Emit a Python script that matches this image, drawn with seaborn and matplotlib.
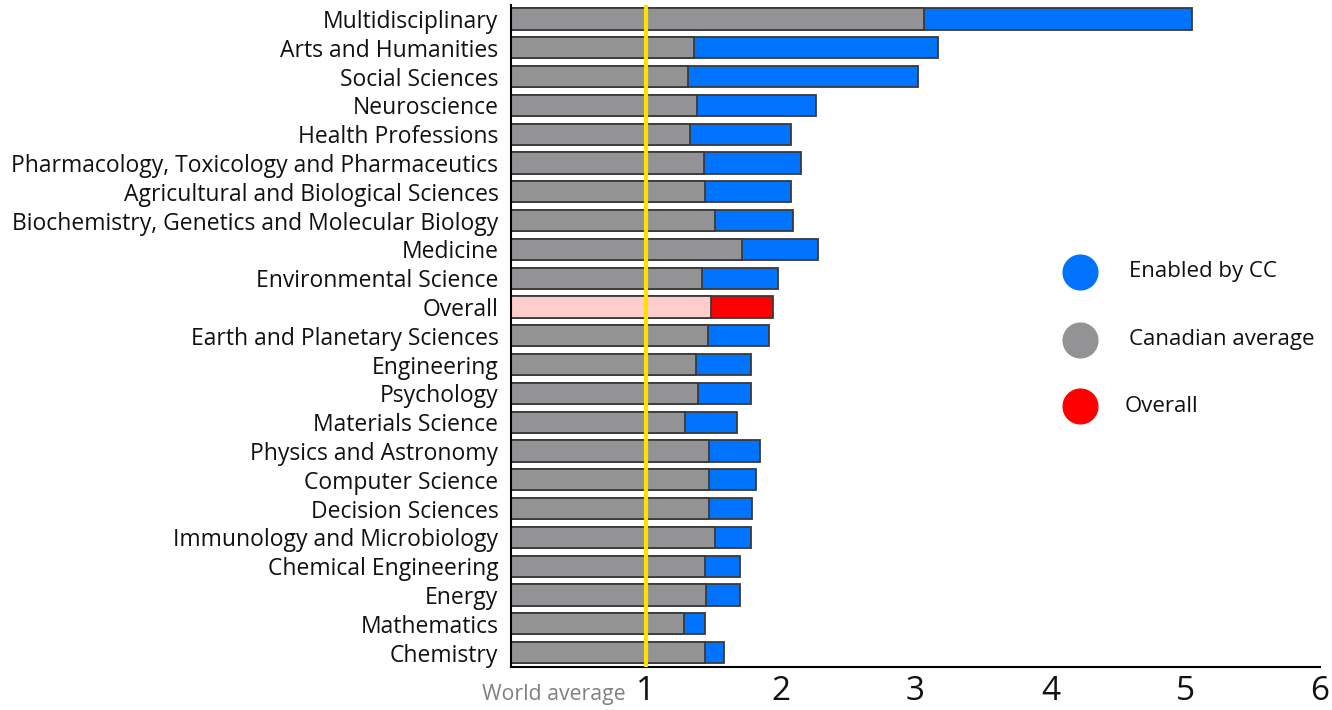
import matplotlib
matplotlib.use("Agg")
import matplotlib.pyplot as plt
import seaborn as sns
import pandas as pd
from matplotlib.lines import Line2D

categories = ["Multidisciplinary", "Arts and Humanities", "Social Sciences", "Neuroscience",
              "Health Professions", "Pharmacology, Toxicology and Pharmaceutics",
              "Agricultural and Biological Sciences", "Biochemistry, Genetics and Molecular Biology",
              "Medicine", "Environmental Science", "Overall", "Earth and Planetary Sciences",
              "Engineering", "Psychology", "Materials Science", "Physics and Astronomy",
              "Computer Science", "Decision Sciences", "Immunology and Microbiology",
              "Chemical Engineering", "Energy", "Mathematics", "Chemistry"]
canadian_average = [3.06, 1.36, 1.31, 1.38, 1.33, 1.43, 1.44, 1.51, 1.71, 1.42, 1.48, 1.46,
                    1.37, 1.39, 1.29, 1.47, 1.47, 1.47, 1.51, 1.44, 1.45, 1.28, 1.44]
enabled_by_cc = [5.05, 3.17, 3.02, 2.26, 2.08, 2.15, 2.08, 2.09, 2.28, 1.98, 1.94, 1.91,
                 1.78, 1.78, 1.68, 1.85, 1.82, 1.79, 1.78, 1.70, 1.70, 1.44, 1.58]
x_ticks = [1, 2, 3, 4, 5, 6]
legend_labels = ["Enabled by CC", "Canadian average", "Overall"]

BLUE = "#0073ff"
GRAY = "#939396"
RED = "#ff0000"
PINK = "#ffcccc"
EDGE = "#3a3a3a"

df = pd.DataFrame({"category": categories, "canadian": canadian_average, "cc": enabled_by_cc})
top_pal = {c: (RED if c == "Overall" else BLUE) for c in categories}
base_pal = {c: (PINK if c == "Overall" else GRAY) for c in categories}

sns.set_style("white")
plt.rcParams["font.family"] = ["Open Sans", "DejaVu Sans"]

fig = plt.figure(figsize=(13.32, 7.10), dpi=100)
ax = fig.add_axes([0.3836, 0.0606, 0.6074, 0.9329])

sns.barplot(data=df, x="cc", y="category", hue="category", palette=top_pal, legend=False,
            orient="h", width=0.74, edgecolor=EDGE, linewidth=1.3, saturation=1, ax=ax)
sns.barplot(data=df, x="canadian", y="category", hue="category", palette=base_pal, legend=False,
            orient="h", width=0.74, edgecolor=EDGE, linewidth=1.3, saturation=1, ax=ax)

ax.axvline(1, color="#ffe000", lw=3, zorder=5)

ax.set_xlim(0, 6)
ax.set_ylim(len(categories) - 0.5, -0.5)
ax.set_xticks(x_ticks)
ax.set_xticklabels([str(t) for t in x_ticks], fontsize=24, color="#111111")
ax.tick_params(axis="x", direction="in", length=11, width=1.2, color="black", pad=6)
ax.tick_params(axis="y", length=0, pad=9, labelsize=16.5)
for lab in ax.get_yticklabels():
    lab.set_color("#111111")
ax.set_xlabel("")
ax.set_ylabel("")
for s in ["top", "right"]:
    ax.spines[s].set_visible(False)
for s in ["left", "bottom"]:
    ax.spines[s].set_color("black")
    ax.spines[s].set_linewidth(1.5)

ax.annotate("World average", xy=(1, 0), xycoords=("data", "axes fraction"),
            xytext=(-14.5, -19.5), textcoords="offset points", ha="right", va="center",
            fontsize=15.3, color="#808080")

legend_colors = [BLUE, GRAY, RED]
legend_y = [1 - 272 / 710, 1 - 340 / 710, 1 - 406 / 710]
for lab, col, yy in zip(legend_labels, legend_colors, legend_y):
    fig.add_artist(Line2D([1080 / 1332], [yy], marker="o", markersize=25, color=col,
                          linestyle="none", transform=fig.transFigure))
    fig.text(1129 / 1332 if lab != "Overall" else 1125 / 1332, yy, lab, fontsize=16,
             va="center", ha="left", color="#111111")

fig.savefig("out.png", dpi=100)
